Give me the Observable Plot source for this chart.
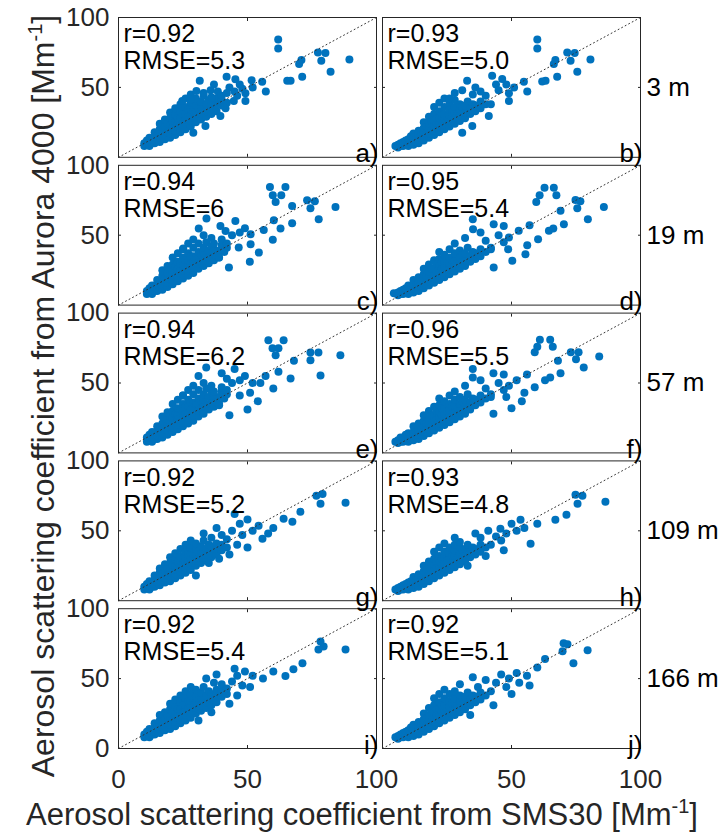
<!DOCTYPE html>
<html><head><meta charset="utf-8">
<script src="https://cdn.jsdelivr.net/npm/d3@7"></script>
<script src="https://cdn.jsdelivr.net/npm/@observablehq/plot@0.6"></script>
<style>
html,body{margin:0;padding:0;background:#fff;}
#chart svg{font-family:"Liberation Sans",Arial,Helvetica,sans-serif;}
</style></head><body><div id="chart"></div>
<script>
// ---- data ----
const heights = ["3 m", "19 m", "57 m", "109 m", "166 m"];
const columns = ["left", "right"];
const panelLetters = ["a)", "b)", "c)", "d)", "e)", "f)", "g)", "h)", "i)", "j)"];
const rValues = ["0.92", "0.93", "0.94", "0.95", "0.94", "0.96", "0.92", "0.93", "0.92", "0.92"];
const rmseValues = ["5.3", "5.0", "6", "5.4", "6.2", "5.5", "5.2", "4.8", "5.4", "5.1"];
const xTicks = [0, 50, 100];
const yTicks = [0, 50, 100];
const identityLine = [0, 100];
const xTitle = "Aerosol scattering coefficient from SMS30 [Mm";
const yTitle = "Aerosol scattering coefficient from Aurora 4000 [Mm";

const pointsA = [[10,8],[10,10],[11,9],[11,12],[12,8],[12,11],[12,14],[13,10],[13,13],[14,10],[14,12],[14,15],[14,18],[15,13],[15,16],[16,11],[16,14],[16,17],[16,20],[16,24],[17,15],[17,19],[18,13],[18,16],[18,19],[18,22],[18,27],[19,18],[19,24],[20,14],[20,17],[20,20],[20,23],[20,28],[20,32],[21,21],[21,26],[22,16],[22,19],[22,22],[22,25],[22,30],[22,35],[23,24],[23,28],[24,18],[24,21],[24,24],[24,28],[24,33],[24,38],[25,26],[25,31],[26,20],[26,24],[26,27],[26,31],[26,36],[26,42],[27,29],[27,34],[28,22],[28,26],[28,30],[28,34],[28,39],[28,45],[29,33],[30,25],[30,29],[30,33],[30,37],[30,42],[31,30],[31,35],[32,27],[32,31],[32,36],[32,40],[33,44],[34,29],[34,33],[34,38],[35,41],[36,31],[36,36],[36,39],[37,34],[38,33],[38,38],[38,42],[40,37],[40,41],[42,39],
[61.9,84.2],[61.9,77.9],[77.3,75],[80.2,74.6],[78.6,69],[89.5,70],[82.2,61.2],[70.9,69.6],[70,66.7],[71.2,57.6],[65.4,54.7],[66.7,54.7],[55.7,54],[57.1,47],[49.2,45.8],[49.2,40.3],[51.6,55.2],[44.7,40.3],[41.5,35],[31.5,54.7],[30.2,47.5],[41.9,57.6],[45.3,55.9],[35.7,48],[38.5,47],[24.7,40.3],[27.9,41.5],[39.5,29.5],[33.7,22.3],[29,17.5],[43,50],[47,52],[40,44],[36,43],[33,46],[45,47],[52,50],[48,49],[37,52],[42,46],[46,44]];

const pointsB = [[5,8],[6,7],[6,9],[7,8],[7,10],[8,8],[8,11],[9,9],[9,12],[10,8],[10,10],[10,13],[11,11],[11,15],[12,9],[12,12],[12,14],[12,17],[13,11],[13,15],[14,10],[14,13],[14,16],[14,19],[15,14],[15,18],[16,12],[16,15],[16,18],[16,21],[16,25],[17,17],[17,22],[18,14],[18,17],[18,20],[18,24],[18,29],[19,19],[19,26],[20,16],[20,19],[20,22],[20,26],[20,31],[20,36],[21,24],[21,28],[22,18],[22,21],[22,24],[22,28],[22,33],[22,39],[23,26],[23,31],[24,20],[24,23],[24,27],[24,31],[24,36],[24,42],[25,29],[26,22],[26,26],[26,30],[26,34],[26,39],[27,32],[28,24],[28,28],[28,32],[28,36],[28,41],[29,30],[30,26],[30,30],[30,34],[30,38],[31,36],[32,28],[32,32],[32,37],[33,40],[34,31],[34,35],[35,38],[36,33],[36,37],[38,35],[38,40],[40,38],
[60,84.2],[60,77.9],[71.6,75],[74.5,74.6],[72.9,69],[67,69.6],[66.4,66.7],[67.7,57.6],[63.2,54.7],[61.9,54.3],[80.6,70],[75.5,61.2],[54.8,54],[56.1,47],[49,45.8],[49,40.3],[32.8,54.7],[30.9,48],[42.5,58.3],[46.4,56],[41.2,29.5],[34.8,22.3],[30.9,17.5],[44,52],[38,47],[40,44],[45,48],[48,52],[35,45],[42,38],[51,50],[36,50],[28,46],[26,42]];

const pointsC = [[11,8],[11,10],[12,9],[12,12],[13,8],[13,11],[13,14],[14,10],[14,13],[15,10],[15,12],[15,15],[15,18],[16,13],[16,16],[17,11],[17,14],[17,17],[17,21],[17,25],[18,15],[18,19],[19,13],[19,16],[19,19],[19,23],[19,28],[20,18],[20,25],[21,15],[21,18],[21,21],[21,24],[21,29],[21,34],[22,21],[22,27],[23,17],[23,20],[23,23],[23,26],[23,31],[23,37],[24,25],[24,30],[25,19],[25,22],[25,25],[25,29],[25,34],[25,40],[26,27],[26,32],[27,21],[27,25],[27,28],[27,32],[27,37],[27,44],[28,30],[28,35],[29,23],[29,27],[29,31],[29,35],[29,41],[29,47],[30,34],[31,26],[31,30],[31,34],[31,38],[31,44],[32,31],[32,36],[33,28],[33,32],[33,37],[33,41],[34,45],[35,30],[35,34],[35,39],[36,42],[37,32],[37,37],[37,40],[38,35],[39,34],[39,39],[40,43],[41,38],[42,41],
[58.7,84.5],[64.7,84.5],[59.8,78.6],[63.1,78.6],[60.9,73.8],[73.1,75],[76.1,74.3],[74.4,69.3],[67.3,70.9],[84.1,70.2],[77.6,61.4],[60.2,60.7],[67.3,58.6],[62.8,54.8],[56.3,53.8],[59.8,46.7],[51.2,50.7],[51.2,43.6],[54.4,37.6],[50.9,31],[42.8,26.9],[46.6,41.2],[31.1,54.8],[34.1,61.9],[45.3,60.2],[39.5,56.6],[41.5,53],[25.1,40.5],[38.9,34],[44,50],[40,47],[47,52],[36,48],[42,44],[49,55],[33,50],[37,44]];

const pointsD = [[4.4,8.4],[6,7],[6,9],[7,8],[7,10],[8,8],[8,11],[9,9],[9,12],[10,8],[10,11],[10,14],[11,10],[11,13],[12,9],[12,12],[12,15],[12,18],[13,11],[13,14],[14,10],[14,13],[14,16],[14,20],[15,13],[15,17],[16,12],[16,15],[16,18],[16,22],[16,26],[17,16],[17,21],[18,14],[18,17],[18,20],[18,24],[18,29],[19,19],[19,26],[20,16],[20,19],[20,22],[20,26],[20,32],[21,24],[21,29],[22,18],[22,21],[22,24],[22,28],[22,33],[22,38],[23,26],[23,31],[24,20],[24,23],[24,27],[24,31],[24,36],[25,29],[26,22],[26,26],[26,30],[26,34],[26,40],[27,32],[28,24],[28,28],[28,32],[28,37],[29,30],[30,26],[30,30],[30,34],[30,39],[31,36],[32,28],[32,32],[32,37],[33,41],[34,31],[34,35],[35,38],[36,33],[36,37],[38,35],[38,40],[40,38],[42,41],
[62.8,84],[66.4,84],[60.9,78.6],[67.4,78.6],[59.6,73.8],[74.8,75.2],[76.7,74.3],[75.5,69.3],[69,67.4],[85.8,70.2],[79.6,61.4],[70.3,57.9],[66.2,54.8],[64.5,53.1],[57,57.1],[60.3,47.1],[56.1,42.9],[55.4,36.4],[50.3,31.7],[48.7,40],[43.1,26.9],[35,61.4],[35.1,54.3],[43.1,57.9],[47,56.6],[49,48.3],[52.8,53.1],[45,50],[40,46],[38,52],[42,40],[47,45],[32,48],[28,44]];

const pointsE = [[11,8],[11,11],[12,9],[12,13],[13,8],[13,11],[13,15],[14,10],[14,13],[15,10],[15,12],[15,16],[15,19],[16,13],[16,17],[17,11],[17,14],[17,18],[17,21],[17,26],[18,15],[18,20],[19,13],[19,16],[19,20],[19,24],[19,29],[20,18],[20,26],[21,15],[21,18],[21,22],[21,25],[21,30],[21,35],[22,21],[22,28],[23,17],[23,20],[23,24],[23,27],[23,32],[23,38],[24,25],[24,31],[25,19],[25,22],[25,26],[25,30],[25,35],[25,41],[26,28],[26,33],[27,21],[27,25],[27,29],[27,33],[27,38],[27,45],[28,31],[28,36],[29,23],[29,27],[29,32],[29,36],[29,42],[29,48],[30,35],[31,26],[31,30],[31,35],[31,39],[31,45],[32,32],[32,37],[33,28],[33,33],[33,38],[33,42],[34,46],[35,31],[35,35],[35,40],[36,43],[37,33],[37,38],[37,41],[38,36],[39,35],[39,40],[40,44],[41,39],[42,42],
[58.1,80.6],[64,80.6],[59.7,74.8],[62,74.8],[60.9,69.8],[74.4,71.9],[77.5,71.9],[74.4,66.2],[86,69.8],[78.3,55.4],[66.7,53.2],[68,66],[62,58],[57,55],[55,50],[60,46],[52,50],[51,43],[54,37],[50,31],[43,27],[47,41],[31,55],[34,61],[45,60],[40,57],[42,53],[25,41],[39,34],[44,50],[40,47],[47,52],[36,48],[42,45],[49,55],[33,50],[37,44]];

const pointsF = [[5,8],[6,7],[6,9],[7,8],[7,11],[8,8],[8,11],[9,9],[9,13],[10,8],[10,11],[10,14],[11,10],[11,13],[12,9],[12,12],[12,15],[12,19],[13,11],[13,15],[14,10],[14,13],[14,17],[14,21],[15,13],[15,17],[16,12],[16,15],[16,19],[16,23],[16,27],[17,16],[17,21],[18,14],[18,17],[18,21],[18,25],[18,30],[19,19],[19,27],[20,16],[20,19],[20,23],[20,27],[20,33],[21,24],[21,30],[22,18],[22,21],[22,25],[22,29],[22,34],[22,39],[23,27],[23,32],[24,20],[24,24],[24,28],[24,32],[24,37],[25,30],[26,22],[26,26],[26,31],[26,35],[26,41],[27,33],[28,24],[28,29],[28,33],[28,38],[29,31],[30,26],[30,31],[30,35],[30,40],[31,37],[32,28],[32,33],[32,38],[33,42],[34,31],[34,36],[35,39],[36,34],[36,38],[38,36],[38,41],[40,39],[42,42],
[61,81],[65,81],[60,76],[66,76],[59,72],[73,72],[76,72],[75,67],[68,66],[84,69],[78,61],[69,57],[65,54],[63,52],[56,56],[59,47],[55,43],[54,37],[50,32],[48,40],[43,28],[35,60],[35,54],[43,57],[47,56],[49,48],[52,52],[45,50],[40,46],[38,52],[42,40],[47,45],[32,48],[28,44]];

const pointsG = [[10,8],[10,10],[11,9],[11,12],[12,8],[12,11],[12,14],[13,10],[13,13],[14,10],[14,12],[14,15],[14,18],[15,13],[15,16],[16,11],[16,14],[16,17],[16,20],[16,23],[17,15],[17,19],[18,13],[18,16],[18,19],[18,22],[18,26],[19,18],[19,23],[20,14],[20,17],[20,20],[20,23],[20,27],[20,31],[21,21],[21,25],[22,16],[22,19],[22,22],[22,25],[22,29],[22,34],[23,24],[23,28],[24,18],[24,21],[24,24],[24,28],[24,32],[24,37],[25,26],[25,30],[26,20],[26,24],[26,27],[26,31],[26,35],[26,40],[27,29],[27,33],[28,22],[28,26],[28,30],[28,34],[28,38],[28,43],[29,32],[30,25],[30,29],[30,33],[30,37],[30,41],[31,30],[31,35],[32,27],[32,31],[32,35],[32,39],[33,43],[34,29],[34,33],[34,37],[35,40],[36,31],[36,35],[36,39],[37,34],[38,33],[38,37],[38,41],[40,36],[40,40],[42,38],
[76.7,75],[79.1,76.4],[78.3,69.3],[88,70],[70.5,63.6],[67.4,56.4],[64,58.6],[55.8,44.3],[54.3,53.6],[45,62.1],[50,58],[47,55],[52,50],[44,50],[40,47],[48,47],[42,44],[36,45],[38,52],[33,48],[46,40],[43,33],[50,38],[58,48],[60,52],[35,27],[39,30],[30,18]];

const pointsH = [[5,8],[6,7],[6,9],[7,8],[7,10],[8,8],[8,11],[9,9],[9,12],[10,8],[10,10],[10,13],[11,11],[11,14],[12,9],[12,12],[12,14],[12,17],[13,11],[13,15],[14,10],[14,13],[14,16],[14,19],[15,14],[15,18],[16,12],[16,15],[16,18],[16,21],[16,25],[17,17],[17,22],[18,14],[18,17],[18,20],[18,24],[18,28],[19,19],[19,25],[20,16],[20,19],[20,22],[20,26],[20,30],[20,35],[21,24],[21,28],[22,18],[22,21],[22,24],[22,28],[22,32],[22,38],[23,26],[23,30],[24,20],[24,23],[24,27],[24,31],[24,35],[24,41],[25,29],[26,22],[26,26],[26,30],[26,34],[26,38],[27,32],[28,24],[28,28],[28,32],[28,36],[28,40],[29,30],[30,26],[30,30],[30,34],[30,38],[31,36],[32,28],[32,32],[32,37],[33,40],[34,31],[34,35],[35,38],[36,33],[36,37],[38,35],[38,40],[40,38],
[74.8,75.7],[77.5,75],[75.6,69.3],[86.4,70.7],[71.3,61.4],[67,57.9],[53.5,57.9],[57.4,40.7],[45.7,51.4],[50,55],[48,48],[44,46],[41,50],[38,45],[52,50],[55,52],[60,55],[42,40],[36,48],[46,43],[40,32],[33,25],[47,36],[30,42],[28,45]];

const pointsI = [[10,8],[10,10],[11,9],[11,12],[12,8],[12,11],[12,14],[13,10],[13,13],[14,10],[14,12],[14,15],[14,18],[15,13],[15,16],[16,11],[16,14],[16,17],[16,20],[16,24],[17,15],[17,19],[18,13],[18,16],[18,19],[18,22],[18,26],[19,18],[19,24],[20,14],[20,17],[20,20],[20,23],[20,28],[20,32],[21,21],[21,26],[22,16],[22,19],[22,22],[22,25],[22,30],[22,35],[23,24],[23,28],[24,18],[24,21],[24,24],[24,28],[24,33],[24,38],[25,26],[25,31],[26,20],[26,24],[26,27],[26,31],[26,36],[26,41],[27,29],[27,34],[28,22],[28,26],[28,30],[28,34],[28,39],[28,44],[29,33],[30,25],[30,29],[30,33],[30,37],[30,42],[31,30],[31,35],[32,27],[32,31],[32,36],[32,40],[33,44],[34,29],[34,33],[34,38],[35,41],[36,31],[36,36],[36,39],[37,34],[38,33],[38,38],[38,42],[40,37],[40,41],[42,39],
[78.3,76.6],[79.5,73],[77.5,70.9],[88,70.9],[71.3,61],[67.8,56.7],[64.7,51.8],[60,55],[56,50],[52,52],[49,55],[46,52],[44,48],[40,46],[48,45],[42,43],[37,47],[34,50],[38,53],[45,57],[46,38],[43,32],[51,44],[36,26],[31,20]];

const pointsJ = [[5,8],[6,7],[6,9],[7,8],[7,10],[8,8],[8,11],[9,9],[9,12],[10,8],[10,10],[10,13],[11,11],[11,15],[12,9],[12,12],[12,14],[12,17],[13,11],[13,15],[14,10],[14,13],[14,16],[14,19],[15,14],[15,18],[16,12],[16,15],[16,18],[16,21],[16,25],[17,17],[17,22],[18,14],[18,17],[18,20],[18,24],[18,29],[19,19],[19,26],[20,16],[20,19],[20,22],[20,26],[20,31],[20,36],[21,24],[21,28],[22,18],[22,21],[22,24],[22,28],[22,33],[22,39],[23,26],[23,31],[24,20],[24,23],[24,27],[24,31],[24,36],[24,42],[25,29],[26,22],[26,26],[26,30],[26,34],[26,39],[27,32],[28,24],[28,28],[28,32],[28,36],[28,41],[29,30],[30,26],[30,30],[30,34],[30,38],[31,36],[32,28],[32,32],[32,37],[33,40],[34,31],[34,35],[35,38],[36,33],[36,37],[38,35],[38,40],[40,38],
[70.2,75.2],[71.7,74.5],[69.8,69.5],[79.5,70.2],[74,61],[63,64],[60,58],[56,52],[52,54],[49,50],[46,53],[44,47],[40,49],[37,44],[48,44],[42,41],[35,51],[30,46],[50,39],[43,31],[34,24],[53,47],[57,45]];

const panelPoints = [pointsA, pointsB, pointsC, pointsD, pointsE, pointsF, pointsG, pointsH, pointsI, pointsJ];

// ---- derived tables ----
const panels = panelLetters.map((letter, i) => ({
  letter, r: rValues[i], rmse: rmseValues[i],
  row: heights[Math.floor(i / 2)], col: columns[i % 2]
}));
const points = panels.flatMap((p, i) => panelPoints[i].map(([x, y]) => ({x, y, row: p.row, col: p.col})));
const bottomRow = heights[heights.length - 1];
const xTickLabels = columns.flatMap((col, ci) =>
  xTicks.filter(v => !(ci > 0 && v === xTicks[0])).map(v => ({col, row: bottomRow, v})));
const yTickLabels = heights.flatMap(row =>
  yTicks.filter(v => row === bottomRow || v !== yTicks[0]).map(v => ({col: columns[0], row, v})));

const W = 723, H = 835;
const ink = "#262626";
const chart = Plot.plot({
  width: W, height: H,
  marginLeft: 118, marginRight: 83, marginTop: 17, marginBottom: 87,
  style: {fontFamily: "Liberation Sans, Arial, Helvetica, sans-serif", fontSize: "26px", color: ink, background: "#fff"},
  x: {domain: [0, 100]},
  y: {domain: [0, 100]},
  fx: {domain: columns, paddingInner: 12 / 528, paddingOuter: 0, round: false, axis: null},
  fy: {domain: heights, paddingInner: 40 / 739, paddingOuter: 0, round: false},
  marks: [
    Plot.dot(points, {x: "x", y: "y", fx: "col", fy: "row", r: 4, fill: "#0072BD", stroke: "none"}),
    Plot.line(identityLine, {x: d => d, y: d => d, stroke: "#333", strokeWidth: 1, strokeDasharray: "1,3"}),
    Plot.frame({stroke: ink, strokeWidth: 1}),
    Plot.axisX([50], {anchor: "bottom", tickSize: -3, fill: "none", label: null, facetAnchor: null, stroke: ink}),
    Plot.axisX([50], {anchor: "top", tickSize: -3, fill: "none", label: null, facetAnchor: null, stroke: ink}),
    Plot.axisY([50], {anchor: "left", tickSize: -3, fill: "none", label: null, facetAnchor: null, stroke: ink}),
    Plot.axisY([50], {anchor: "right", tickSize: -3, fill: "none", label: null, facetAnchor: null, stroke: ink}),
    Plot.text(xTickLabels, {fx: "col", fy: "row", x: "v", text: d => String(d.v), frameAnchor: "bottom", lineAnchor: "top", dy: 21, fontSize: 26, fill: ink}),
    Plot.text(yTickLabels, {fx: "col", fy: "row", y: "v", text: d => String(d.v), frameAnchor: "left", textAnchor: "end", dx: -9, fontSize: 26, fill: ink}),
    Plot.axisFy({anchor: "right", tickSize: 0, tickPadding: 6, label: null, fontSize: 26, fill: "#000"}),
    Plot.text(panels, {fx: "col", fy: "row", text: d => `r=${d.r}`, frameAnchor: "top-left", textAnchor: "start", lineAnchor: "top", dx: 5, dy: 7, fontSize: 25, fill: "#000"}),
    Plot.text(panels, {fx: "col", fy: "row", text: d => `RMSE=${d.rmse}`, frameAnchor: "top-left", textAnchor: "start", lineAnchor: "top", dx: 5, dy: 34, fontSize: 25, fill: "#000"}),
    Plot.text(panels, {fx: "col", fy: "row", text: "letter", frameAnchor: "bottom-right", textAnchor: "end", lineAnchor: "bottom", dx: 2, dy: 5, fontSize: 26, fill: "#000"})
  ]
});
document.getElementById("chart").appendChild(chart);

// axis titles with superscript
const svg = d3.select(chart);
const xt = svg.append("text").attr("x", 362).attr("y", 825).attr("text-anchor", "middle")
  .attr("font-size", 31).attr("fill", ink);
xt.append("tspan").text(xTitle);
xt.append("tspan").attr("dy", -12).attr("font-size", 20).text("-1");
xt.append("tspan").attr("dy", 12).text("]");
const yt = svg.append("text").attr("transform", "translate(54,396) rotate(-90)").attr("text-anchor", "middle")
  .attr("font-size", 32).attr("fill", ink);
yt.append("tspan").text(yTitle);
yt.append("tspan").attr("dy", -12).attr("font-size", 20).text("-1");
yt.append("tspan").attr("dy", 12).text("]");
</script></body></html>
